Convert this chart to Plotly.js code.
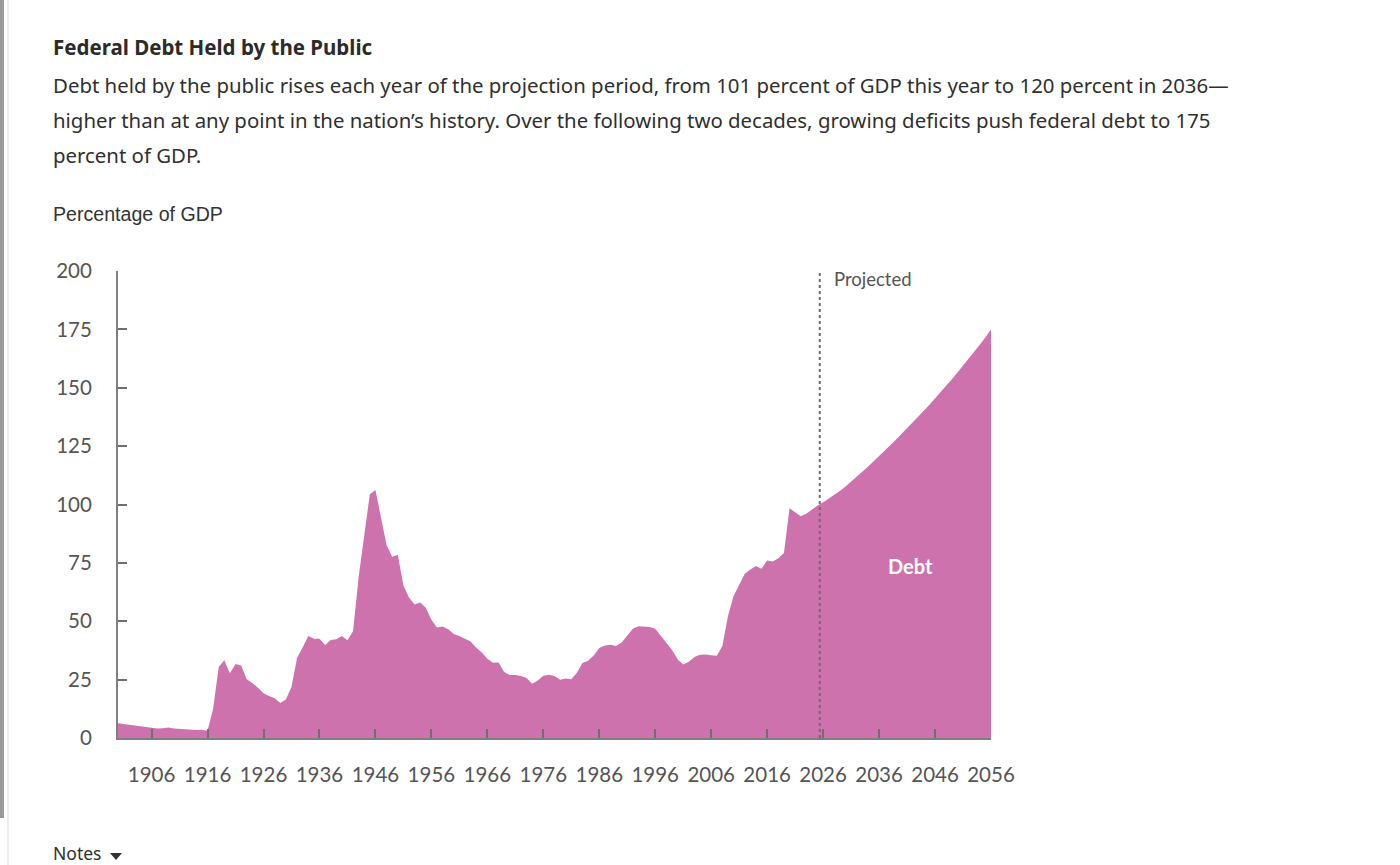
<!DOCTYPE html>
<html><head><meta charset="utf-8">
<script src="https://cdn.plot.ly/plotly-3.0.1.min.js"></script>
<style>html,body{margin:0;padding:0;background:#fff;overflow:hidden}#c{width:1400px;height:865px}</style>
</head><body><div id="c"></div>
<script>
const startYear = 1900;
const debt = [
6.3,6.0,5.7,5.4,5.1,4.7,4.2,4.1,4.2,4.5,4.1,3.9,3.8,3.6,3.4,3.5,3.1,
12.5,30.4,33.3,27.7,31.7,31.0,25.2,23.6,21.5,19.2,18.0,17.0,15.0,16.5,21.8,34.4,38.8,43.7,42.5,42.5,39.8,42.0,42.3,43.7,41.9,45.7,
69.0,87.5,104.4,106.2,94.0,82.6,77.6,78.5,65.3,60.2,57.2,58.0,55.8,50.6,47.3,47.8,46.6,44.5,43.7,42.5,41.3,38.8,36.6,33.9,32.2,32.3,28.3,
27.0,27.0,26.5,25.7,23.2,24.6,26.7,27.1,26.6,24.9,25.5,25.2,27.9,32.1,33.1,35.3,38.5,39.6,39.9,39.4,40.9,44.1,46.8,47.9,47.7,47.5,46.8,43.8,40.8,37.7,
33.7,31.5,32.7,34.7,35.7,35.8,35.4,35.2,39.4,52.3,60.8,65.8,70.3,72.2,73.7,72.5,76.0,75.6,77.0,79.2,98.4,96.7,95.0,96.0,97.9,99.6,
101.0,102.5,104.1,105.8,107.7,109.7,111.8,114.0,116.2,118.4,120.7,123.0,125.35,127.75,130.15,132.6,135.1,137.6,140.15,142.75,145.4,148.1,150.85,153.65,156.5,159.4,162.35,165.35,168.45,171.65,175.0
];
const years = debt.map((_, i) => startYear + i);
const xTicks = [1906,1916,1926,1936,1946,1956,1966,1976,1986,1996,2006,2016,2026,2036,2046,2056];
const yTicks = [0,25,50,75,100,125,150,175,200];
const projectionYear = 2025.4;
const titleText = 'Federal Debt Held by the Public';
const bodyLines = [
 'Debt held by the public rises each year of the projection period, from 101 percent of GDP this year to 120 percent in 2036—',
 'higher than at any point in the nation’s history. Over the following two decades, growing deficits push federal debt to 175',
 'percent of GDP.'
];
const unitText = 'Percentage of GDP';

const W=1400,H=865,L=118,R=991,T=271,B=738;
const px=x=>(x-L)/(R-L), py=y=>(B-y)/(B-T);
const bodyFont='"Noto Sans", sans-serif', axisFont='Lato, sans-serif';
const txt=(text,x,y,font,extra)=>Object.assign({text,xref:'paper',yref:'paper',x:px(x-2),y:py(y),xanchor:'left',yanchor:'middle',showarrow:false,font},extra||{});

const annotations=[
 txt('<b>'+titleText+'</b>',53,47,{family:bodyFont,size:20.5,color:'#2b2b2b'}),
 ...bodyLines.map((s,i)=>txt(s,53,[85,120,155][i],{family:bodyFont,size:20.4,color:'#2f2f2f'})),
 txt(unitText,53,214,{family:'"Liberation Sans", sans-serif',size:19.6,color:'#333'}),
 txt('Notes',53,853,{family:bodyFont,size:17.5,color:'#2f2f2f'}),
 {text:'Projected',xref:'x',yref:'paper',x:projectionYear,xshift:12,y:py(279),xanchor:'left',yanchor:'middle',showarrow:false,font:{family:axisFont,size:18.5,color:'#555'}},
 {text:'<b>Debt</b>',xref:'x',yref:'y',x:2041.6,y:73.5,xanchor:'center',yanchor:'middle',showarrow:false,font:{family:axisFont,size:20,color:'#fff'}}
];
const shapes=[
 {type:'line',xref:'x',yref:'y',x0:projectionYear,x1:projectionYear,y0:0,y1:200,line:{color:'#6f6a70',width:2,dash:'dot'},layer:'above'},
 {type:'rect',xref:'paper',yref:'paper',x0:px(0),x1:px(4),y0:py(0),y1:py(818),fillcolor:'#9a9a9a',line:{width:0}},
 {type:'line',xref:'paper',yref:'paper',x0:px(8),x1:px(8),y0:py(0),y1:py(865),line:{color:'#d3dde2',width:1}},
 {type:'path',xref:'paper',yref:'paper',path:`M ${px(110)} ${py(853)} L ${px(122)} ${py(853)} L ${px(116)} ${py(860)} Z`,fillcolor:'#333',line:{width:0}}
];
const axisCommon={showgrid:false,zeroline:false,showline:true,linecolor:'#7f7f7f',linewidth:2,ticks:'inside',ticklen:9,tickwidth:2,tickcolor:'#6f6f6f',tickmode:'array',tickfont:{family:axisFont,size:20.5,color:'#555'},fixedrange:true};
Plotly.newPlot('c',[{
 type:'scatter',mode:'lines',x:years,y:debt,fill:'tozeroy',fillcolor:'#CE72AD',line:{width:0,color:'#CE72AD'},hoverinfo:'x+y'
}],{
 width:W,height:H,paper_bgcolor:'#fff',plot_bgcolor:'#fff',showlegend:false,
 margin:{l:L,r:W-R,t:T,b:H-B,pad:0},
 xaxis:Object.assign({},axisCommon,{range:[startYear,2056],tickvals:xTicks,ticktext:xTicks.map(String),ticklabelstandoff:17,tickangle:0}),
 yaxis:Object.assign({},axisCommon,{range:[0,200],tickvals:yTicks,ticktext:yTicks.map(String),ticklabelstandoff:20}),
 annotations,shapes
},{displayModeBar:false});
</script></body></html>
